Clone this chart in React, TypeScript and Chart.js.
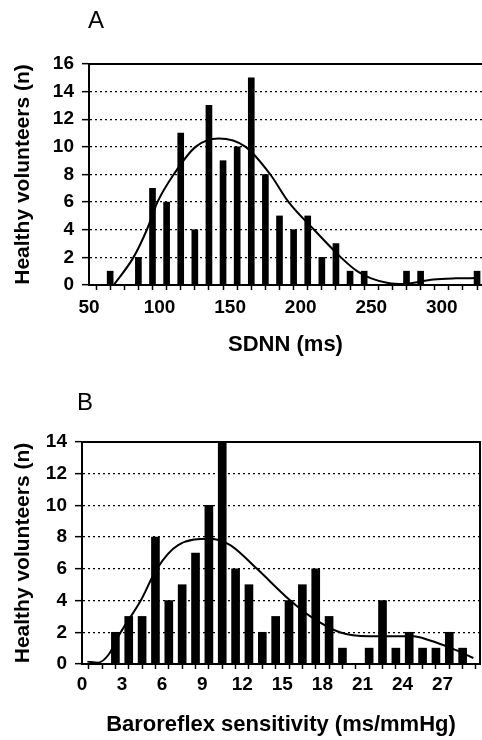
import React, { useEffect, useRef } from 'react';
import { Chart, registerables } from 'chart.js';

Chart.register(...registerables);

const FONT = '"Liberation Sans", Arial, sans-serif';

// Panel A: SDNN histogram
const sdnnBins = [65, 75, 85, 95, 105, 115, 125, 135, 145, 155, 165, 175, 185, 195, 205, 215, 225, 235, 245, 255, 265, 275, 285, 295, 305, 315, 325];
const sdnnCounts = [1, 0, 2, 7, 6, 11, 4, 13, 9, 10, 15, 8, 5, 4, 5, 2, 3, 1, 1, 0, 0, 1, 1, 0, 0, 0, 1];
const sdnnCurveX = [67.5, 81.5, 91, 98.5, 110, 125.5, 142, 161, 178.5, 191.5, 209.5, 228.5, 240, 249.5, 262, 273, 294, 310, 325];
const sdnnCurveY = [0, 2, 4, 6, 8, 10, 10.6, 10, 8, 6, 4, 2, 1, 0.5, 0.15, 0.08, 0.4, 0.48, 0.5];

// Panel B: baroreflex sensitivity histogram
const brsBins = [2.5, 3.5, 4.5, 5.5, 6.5, 7.5, 8.5, 9.5, 10.5, 11.5, 12.5, 13.5, 14.5, 15.5, 16.5, 17.5, 18.5, 19.5, 20.5, 21.5, 22.5, 23.5, 24.5, 25.5, 26.5, 27.5, 28.5];
const brsCounts = [2, 3, 3, 8, 4, 5, 7, 10, 14, 6, 5, 2, 3, 4, 5, 6, 3, 1, 0, 1, 4, 1, 2, 1, 1, 2, 1];
const brsCurveX = [0.4, 1.2, 2.0, 2.9, 4.4, 5.6, 7.2, 9.6, 11.1, 13.1, 15.6, 17.1, 19.3, 21.5, 23.5, 24.8, 26.0, 27.65, 29.3];
const brsCurveY = [0.15, 0.08, 0.6, 2, 4, 6, 7.5, 7.9, 7.5, 6, 4, 3, 2, 1.75, 1.75, 1.75, 1.5, 1, 0.38];

const yTitle = 'Healthy volunteers (n)';
const sdnnTitle = 'SDNN (ms)';
const brsTitle = 'Baroreflex sensitivity (ms/mmHg)';

type PanelOpts = {
  bins: number[];
  counts: number[];
  curveX: number[];
  curveY: number[];
  xMin: number;
  xMax: number;
  xStep: number;
  labelStep: number;
  yMax: number;
  barThickness: number;
  padTop: number;
  padRight: number;
  yWidth: number;
  xHeight: number;
  xTitle: string;
  rightBorder: boolean;
  xTickPad: number;
  xTitlePadBottom: number;
};

function buildConfig(o: PanelOpts): any {
  const tickFont = { family: FONT, size: 19, weight: 'bold' as const };
  const scales: any = {
    x: {
      type: 'linear',
      position: 'bottom',
      min: o.xMin,
      max: o.xMax,
      offset: false,
      grid: {
        display: true,
        drawOnChartArea: false,
        drawTicks: true,
        tickLength: 5,
        tickColor: '#000',
        tickWidth: 1.5,
        color: '#000',
      },
      border: { display: true, color: '#000', width: 2 },
      ticks: {
        stepSize: o.xStep,
        autoSkip: false,
        maxRotation: 0,
        minRotation: 0,
        includeBounds: false,
        color: '#000',
        font: tickFont,
        padding: o.xTickPad,
        callback: (v: number) => {
          const r = Math.round(v * 1000) / 1000;
          return Math.abs(r % o.labelStep) < 1e-6 ? String(r) : '';
        },
      },
      title: {
        display: true,
        text: o.xTitle,
        color: '#000',
        font: { family: FONT, size: 22, weight: 'bold' },
        padding: { top: 0, bottom: o.xTitlePadBottom },
      },
      afterFit: (s: any) => {
        s.height = o.xHeight;
      },
    },
    xTop: {
      type: 'linear',
      position: 'top',
      display: true,
      grid: { display: false, drawTicks: false },
      ticks: { display: false },
      border: { display: true, color: '#000', width: 2 },
      afterFit: (s: any) => {
        s.height = 0;
      },
    },
    y: {
      type: 'linear',
      position: 'left',
      min: 0,
      max: o.yMax,
      grid: {
        display: true,
        drawOnChartArea: true,
        drawTicks: true,
        color: (ctx: any) => {
          const v = ctx.tick ? ctx.tick.value : 0;
          return v > 0 && v < o.yMax ? '#000' : 'rgba(0,0,0,0)';
        },
        lineWidth: 1.3,
        tickLength: 7,
        tickColor: '#000',
        tickWidth: 1.5,
      },
      border: { display: true, color: '#000', width: 2, dash: [2, 3] },
      ticks: {
        stepSize: 2,
        color: '#000',
        font: tickFont,
        padding: 8,
      },
      title: {
        display: true,
        text: yTitle,
        color: '#000',
        font: { family: FONT, size: 21, weight: 'bold' },
        padding: { top: 11, bottom: 0 },
      },
      afterFit: (s: any) => {
        s.width = o.yWidth;
      },
    },
  };
  if (o.rightBorder) {
    scales.yRight = {
      type: 'linear',
      position: 'right',
      display: true,
      grid: { display: false, drawTicks: false },
      ticks: { display: false },
      border: { display: true, color: '#000', width: 2 },
      afterFit: (s: any) => {
        s.width = 0;
      },
    };
  }
  return {
    type: 'bar',
    data: {
      datasets: [
        {
          type: 'line',
          xAxisID: 'x',
          yAxisID: 'y',
          data: o.curveX.map((x, i) => ({ x, y: o.curveY[i] })),
          borderColor: '#000',
          borderWidth: 2,
          pointRadius: 0,
          fill: false,
          cubicInterpolationMode: 'monotone',
          order: 0,
        },
        {
          type: 'bar',
          xAxisID: 'x',
          yAxisID: 'y',
          data: o.bins.map((x, i) => ({ x, y: o.counts[i] })),
          backgroundColor: '#000',
          borderWidth: 0,
          barThickness: o.barThickness,
          order: 1,
        },
      ],
    },
    options: {
      responsive: false,
      animation: false,
      devicePixelRatio: 1,
      layout: { padding: { top: o.padTop, right: o.padRight, left: 0, bottom: 0 } },
      plugins: { legend: { display: false }, tooltip: { enabled: false } },
      scales,
    },
  };
}

function Panel(props: { opts: PanelOpts; top: number; height: number }) {
  const ref = useRef<HTMLCanvasElement | null>(null);
  useEffect(() => {
    if (!ref.current) return;
    const chart = new Chart(ref.current, buildConfig(props.opts));
    return () => chart.destroy();
  }, []);
  return (
    <canvas
      ref={ref}
      width={482}
      height={props.height}
      style={{ position: 'absolute', left: 0, top: props.top, width: 482, height: props.height, display: 'block' }}
    />
  );
}

const panelA: PanelOpts = {
  bins: sdnnBins,
  counts: sdnnCounts,
  curveX: sdnnCurveX,
  curveY: sdnnCurveY,
  xMin: 50,
  xMax: 328.5,
  xStep: 10,
  labelStep: 50,
  yMax: 16,
  barThickness: 6,
  padTop: 64,
  padRight: 0,
  yWidth: 89,
  xHeight: 75,
  xTitle: sdnnTitle,
  rightBorder: false,
  xTickPad: 6,
  xTitlePadBottom: 2,
};

const panelB: PanelOpts = {
  bins: brsBins,
  counts: brsCounts,
  curveX: brsCurveX,
  curveY: brsCurveY,
  xMin: 0,
  xMax: 29.8,
  xStep: 1,
  labelStep: 3,
  yMax: 14,
  barThickness: 8,
  padTop: 82,
  padRight: 2,
  yWidth: 82,
  xHeight: 76,
  xTitle: brsTitle,
  rightBorder: true,
  xTickPad: 4,
  xTitlePadBottom: 2,
};

export default function App() {
  Chart.defaults.font.family = FONT;
  Chart.defaults.color = '#000';
  return (
    <div style={{ position: 'absolute', left: 0, top: 0, width: 482, height: 740, background: '#fff', overflow: 'hidden' }}>
      <Panel opts={panelA} top={0} height={360} />
      <Panel opts={panelB} top={360} height={380} />
      <div style={{ position: 'absolute', left: 88, top: 8, fontFamily: FONT, fontSize: 24, lineHeight: '24px', color: '#000' }}>A</div>
      <div style={{ position: 'absolute', left: 77, top: 390, fontFamily: FONT, fontSize: 24, lineHeight: '24px', color: '#000' }}>B</div>
    </div>
  );
}
